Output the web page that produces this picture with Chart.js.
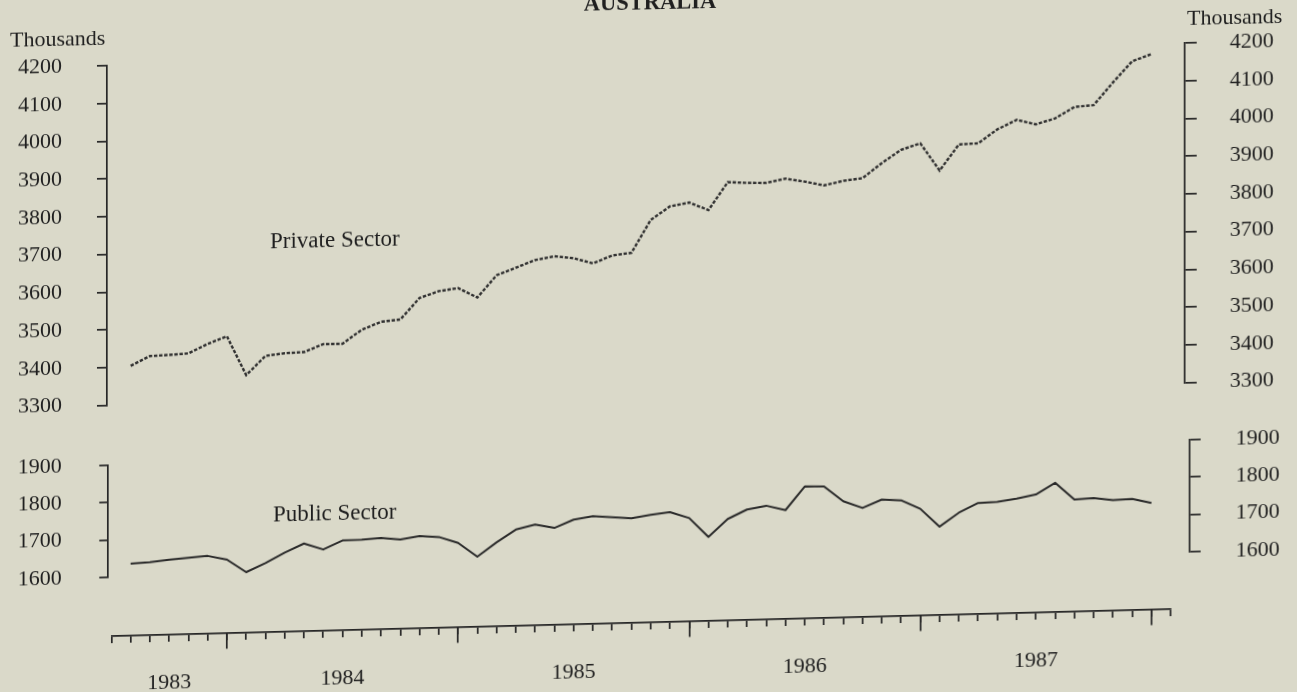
<!DOCTYPE html>
<html><head><meta charset="utf-8">
<script src="https://cdn.jsdelivr.net/npm/chart.js@4/dist/chart.umd.min.js"></script>
<style>
html,body{margin:0;padding:0;background:#dad9c9;width:1297px;height:692px;overflow:hidden;}
.panel{position:absolute;left:0;width:1297px;transform-origin:0 0;}
.panel canvas{position:absolute;left:0;top:0;}
.t{position:absolute;font-family:'Liberation Serif','Times New Roman',serif;color:#1f1f1f;line-height:1;white-space:nowrap;}
</style></head><body>
<div class="panel" style="top:0;height:440px;transform:skewY(-1.209deg)">
  <canvas id="c1" width="1297" height="440"></canvas>
  <div class="t" style="left:550px;width:200px;text-align:center;top:4.9px;font-size:22.5px;font-weight:bold">AUSTRALIA</div>
  <div class="t" style="left:10px;top:29.2px;font-size:22px">Thousands</div>
  <div class="t" style="left:1187px;top:32.2px;font-size:22px">Thousands</div>
  <div class="t" style="left:270px;top:234.5px;font-size:23px">Private Sector</div>
</div>
<div class="panel" style="top:430px;height:170px;transform:skewY(-1.358deg)">
  <canvas id="c2" width="1297" height="170"></canvas>
  <div class="t" style="left:273px;top:78.6px;font-size:23px">Public Sector</div>
</div>
<div class="panel" style="top:600px;height:110px;transform:skewY(-1.461deg)">
  <canvas id="c3" width="1297" height="110"></canvas>
</div>
<script>
// ---- data (thousands of persons, monthly, month index 1..54 on the axis) ----
const privateValues = [3403,3428,3430,3433,3457,3476,3372,3422,3428,3430,3450,3450,3486,3506,3511,3567,3584,3591,3565,3623,3642,3661,3670,3664,3649,3669,3675,3761,3796,3805,3784,3857,3854,3853,3863,3854,3843,3854,3860,3899,3933,3949,3876,3944,3946,3982,4006,3993,4008,4037,4041,4100,4155,4173];
const publicValues = [1635,1638,1643,1647,1651,1640,1605,1628,1655,1678,1661,1684,1685,1688,1683,1691,1687,1670,1632,1669,1702,1714,1704,1725,1733,1729,1725,1733,1739,1722,1670,1717,1741,1750,1737,1799,1798,1757,1738,1759,1756,1732,1683,1719,1744,1746,1753,1763,1793,1747,1750,1743,1745,1733];
const privateTicks = [3300,3400,3500,3600,3700,3800,3900,4000,4100,4200];
const publicTicks = [1600,1700,1800,1900];
const yearLabels = ['1983','1984','1985','1986','1987'];
const yearLabelMonths = [3,12,24,36,48];
const yearBoundaryMonths = [6,18,30,42,54];
const firstDataMonth = 1;
const lastAxisMonth = 55;

// ---- style / layout ----
const INK = '#262626';
const FONT = {family:"'Liberation Serif','Times New Roman',serif", size:22};
const AXIS_X0 = 111.4, AXIS_X1 = 1171;
const MONTH_PX = (AXIS_X1 - AXIS_X0) / lastAxisMonth;
const monthTicks = Array.from({length: lastAxisMonth + 1}, (_, i) => i);
const toPoints = vals => vals.map((v, k) => ({x: firstDataMonth + k, y: v}));
const xRange = (left, right) => ({type:'linear', display:false,
  min:(left - AXIS_X0) / MONTH_PX, max:(right - AXIS_X0) / MONTH_PX});

function yAxis(pos, ticksArr, tickLen, pad, width) {
  return {type:'linear', position:pos, min:ticksArr[0], max:ticksArr[ticksArr.length-1],
    afterBuildTicks: s => { s.ticks = ticksArr.map(v => ({value:v})); },
    afterFit: s => { s.width = width; s.paddingTop = 0; s.paddingBottom = 0; },
    ticks:{font:FONT, color:'#1f1f1f', padding:pad, autoSkip:false, callback:v => String(v)},
    grid:{drawOnChartArea:false, drawTicks:true, tickLength:tickLen, color:INK, lineWidth:1.7},
    border:{display:true, color:INK, width:1.7}};
}
const base = {responsive:false, animation:false, devicePixelRatio:1,
  plugins:{legend:{display:false}, tooltip:{enabled:false}}};

new Chart(document.getElementById('c1'), {
  type:'line',
  data:{datasets:[{label:'Private Sector', data:toPoints(privateValues), xAxisID:'x', yAxisID:'yL',
    borderColor:'#303030', borderWidth:2.4, borderDash:[3.4,1.7], pointRadius:0, tension:0, fill:false}]},
  options:Object.assign({}, base, {
    layout:{padding:{top:68.2, bottom:32.5, left:0, right:0}},
    scales:{x:xRange(107, 1185), yL:yAxis('left', privateTicks, 10, 35, 107), yR:yAxis('right', privateTicks, 12, 33, 112)}
  })
});

new Chart(document.getElementById('c2'), {
  type:'line',
  data:{datasets:[{label:'Public Sector', data:toPoints(publicValues), xAxisID:'x', yAxisID:'yL',
    borderColor:'#2a2a2a', borderWidth:2, pointRadius:0, tension:0, fill:false, borderJoinStyle:'round'}]},
  options:Object.assign({}, base, {
    layout:{padding:{top:37.9, bottom:20.1, left:0, right:0}},
    scales:{x:xRange(108.3, 1190), yL:yAxis('left', publicTicks, 9, 37.6, 108.3), yR:yAxis('right', publicTicks, 11, 35, 107)}
  })
});

function xAxis(ticksArr, h, extra) {
  return Object.assign({type:'linear', position:'bottom', min:0, max:lastAxisMonth,
    afterBuildTicks: s => { s.ticks = ticksArr.map(v => ({value:v})); },
    afterFit: s => { s.height = h; s.paddingLeft = 0; s.paddingRight = 0; }}, extra);
}
new Chart(document.getElementById('c3'), {
  type:'line',
  data:{datasets:[]},
  options:Object.assign({}, base, {
    layout:{padding:{top:0, bottom:0, left:AXIS_X0, right:1297 - AXIS_X1}},
    scales:{
      x: xAxis(monthTicks, 0, {ticks:{display:false},
        grid:{drawOnChartArea:false, drawTicks:true, tickLength:7.5, color:INK, lineWidth:1.7},
        border:{display:true, color:INK, width:1.7}}),
      xLong: xAxis(yearBoundaryMonths, 0, {ticks:{display:false},
        grid:{drawOnChartArea:false, drawTicks:true, tickLength:16, color:INK, lineWidth:1.7},
        border:{display:false}}),
      xYear: xAxis(yearLabelMonths, 71.5, {ticks:{display:true, font:FONT, color:'#1f1f1f', padding:35.8, maxRotation:0, autoSkip:false,
          callback:(v, i) => yearLabels[i]},
        grid:{display:false, drawTicks:false, tickLength:0},
        border:{display:false}}),
      y:{display:false, min:0, max:1}
    }
  })
});
</script>
</body></html>
